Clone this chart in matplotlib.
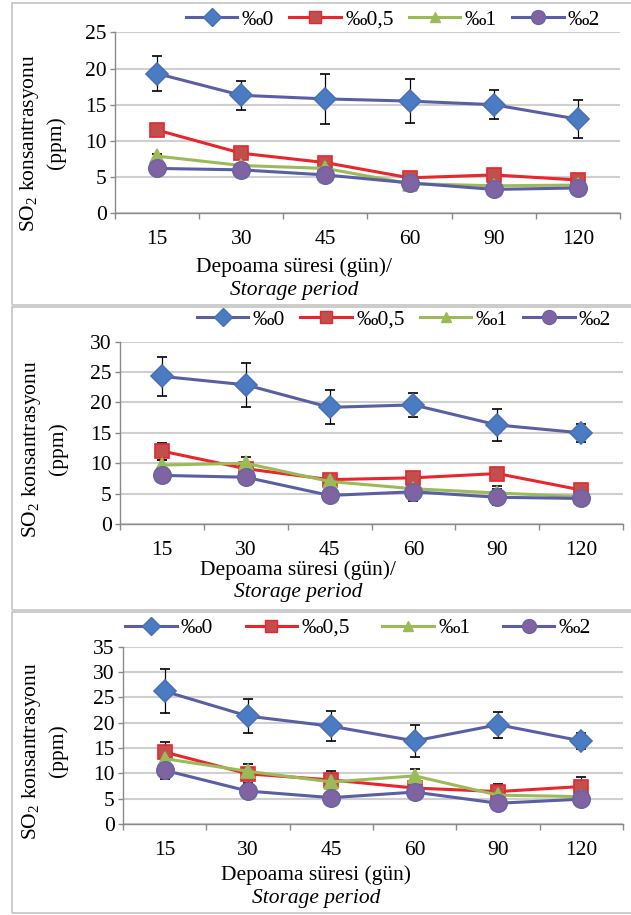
import matplotlib
matplotlib.use("Agg")
import matplotlib.pyplot as plt
from matplotlib.patches import Rectangle
from matplotlib.lines import Line2D

plt.rcParams['font.family'] = ['Liberation Serif', 'DejaVu Serif']
plt.rcParams['mathtext.fontset'] = 'custom'
plt.rcParams['mathtext.rm'] = 'Liberation Serif'
plt.rcParams['mathtext.it'] = 'Liberation Serif:italic'

categories = ["15", "30", "45", "60", "90", "120"]
series_names = ["‰0", "‰0,5", "‰1", "‰2"]

# Panel 1
p1_v0 = [19.3, 16.3, 15.8, 15.5, 15.0, 13.0]
p1_v05 = [11.5, 8.3, 7.0, 4.9, 5.3, 4.6]
p1_v1 = [7.9, 6.6, 6.2, 4.1, 3.8, 3.9]
p1_v2 = [6.2, 6.0, 5.3, 4.2, 3.3, 3.5]
p1_e0 = [2.4, 2.0, 3.5, 3.0, 2.0, 2.6]
p1_e05 = [0.3, 0.3, 0.3, 0.3, 0.3, 0.2]
p1_e1 = [0.3, 0.2, 0.2, 0.2, 0.2, 0.2]
p1_e2 = [0.2, 0.2, 0.2, 0.2, 0.2, 0.2]

# Panel 2
p2_v0 = [24.3, 22.9, 19.2, 19.6, 16.3, 15.0]
p2_v05 = [12.0, 9.1, 7.3, 7.6, 8.3, 5.6]
p2_v1 = [9.7, 10.0, 7.0, 5.8, 5.1, 4.5]
p2_v2 = [8.0, 7.7, 4.7, 5.3, 4.4, 4.2]
p2_e0 = [3.2, 3.6, 2.8, 2.0, 2.6, 1.5]
p2_e05 = [1.4, 0.4, 0.4, 0.4, 0.4, 0.4]
p2_e1 = [0.8, 1.1, 0.4, 0.4, 1.1, 0.3]
p2_e2 = [0.4, 0.4, 0.4, 1.5, 1.3, 0.4]

# Panel 3
p3_v0 = [26.2, 21.3, 19.3, 16.4, 19.6, 16.4]
p3_v05 = [14.2, 9.9, 8.7, 7.1, 6.4, 7.4]
p3_v1 = [12.9, 10.4, 8.3, 9.5, 5.7, 5.4]
p3_v2 = [10.6, 6.5, 5.2, 6.3, 4.1, 4.9]
p3_e0 = [4.3, 3.4, 3.0, 3.1, 2.6, 1.5]
p3_e05 = [1.9, 1.9, 1.8, 0.5, 1.5, 1.8]
p3_e1 = [0.5, 0.6, 0.5, 1.3, 0.4, 0.4]
p3_e2 = [1.8, 0.5, 0.5, 0.5, 0.5, 0.5]

y_label_1 = "SO$_2$ konsantrasyonu"
y_label_2 = "(ppm)"
x_label_1 = "Depoama süresi (gün)/"
x_label_3 = "Depoama süresi (gün)"
x_label_2 = "Storage period"

W, H = 631, 915
fig = plt.figure(figsize=(W / 100, H / 100), dpi=100)

def fx(px):
    return px / W

def fy(py):
    return 1 - py / H

# panel borders
for top, bot in [(3, 305), (307, 610), (612, 913)]:
    fig.patches.append(Rectangle((fx(12), fy(bot)), fx(640 - 12), (bot - top) / H,
                                 transform=fig.transFigure, fill=False,
                                 edgecolor="#c8c8c8", linewidth=1.3))

styles = [
    dict(color="#5a5fa3", marker="D", mfc="#4a7cc4", mec="#4a6fb5", ms=11),
    dict(color="#e8262b", marker="s", mfc="#c0504d", mec="#e8262b", ms=10),
    dict(color="#9bbb59", marker="^", mfc="#9bbb59", mec="#9bbb59", ms=9.5),
    dict(color="#5a5fa3", marker="o", mfc="#8064a2", mec="#6a64a5", ms=12.5),
]

panels = [
    dict(vals=[p1_v0, p1_v05, p1_v1, p1_v2], errs=[p1_e0, p1_e05, p1_e1, p1_e2],
         box=(115, 620, 32.3, 213.3), ymax=25,
         ylab=(30, 56, 143), xl=(294, 267, 290), xlab=x_label_1,
         leg=(393, 20), colsp=0.7),
    dict(vals=[p2_v0, p2_v05, p2_v1, p2_v2], errs=[p2_e0, p2_e05, p2_e1, p2_e2],
         box=(120, 623, 341.7, 524), ymax=30,
         ylab=(32, 58, 449), xl=(298, 570, 593), xlab=x_label_1,
         leg=(404, 320), colsp=0.7),
    dict(vals=[p3_v0, p3_v05, p3_v1, p3_v2], errs=[p3_e0, p3_e05, p3_e1, p3_e2],
         box=(123, 623, 646.7, 824), ymax=35,
         ylab=(32, 58, 751), xl=(316, 875, 898), xlab=x_label_3,
         leg=(358, 628), colsp=1.5),
]

FS = 15.5
x = list(range(len(categories)))

for p in panels:
    l, r, t, b = p["box"]
    ax = fig.add_axes([fx(l), fy(b), (r - l) / W, (b - t) / H])
    for vals, errs, st in zip(p["vals"], p["errs"], styles):
        ax.errorbar(x, vals, yerr=errs, color=st["color"], lw=2.2,
                    marker=st["marker"], mfc=st["mfc"], mec=st["mec"],
                    ms=st["ms"], mew=1.2, ecolor="black", elinewidth=0.9,
                    capsize=3.5, capthick=0.9, zorder=3)
    ax.set_xlim(-0.5, 5.5)
    ax.set_ylim(0, p["ymax"])
    ax.set_yticks(range(0, p["ymax"] + 1, 5))
    ax.set_xticks(x)
    ax.set_xticklabels(categories)
    ax.set_xticks([i - 0.5 for i in range(7)], minor=True)
    ax.tick_params(axis="x", which="major", length=0, pad=12, labelsize=FS)
    ax.tick_params(axis="x", which="minor", length=4.5, width=1.0, color="#8a8a8a")
    ax.tick_params(axis="y", which="major", length=3.5, width=1.0, color="#8a8a8a",
                   pad=2.5, labelsize=FS)
    ax.grid(axis="y", color="#cfcfcf", linewidth=1.5, zorder=0)
    ax.set_axisbelow(True)
    for s in ["top", "right"]:
        ax.spines[s].set_visible(False)
    for s in ["left", "bottom"]:
        ax.spines[s].set_color("#8a8a8a")
        ax.spines[s].set_linewidth(1.0)
    ax.patch.set_alpha(0)

    x1, x2, yc = p["ylab"]
    fig.text(fx(x1), fy(yc), y_label_1, rotation=90, ha="center", va="center", fontsize=FS)
    fig.text(fx(x2), fy(yc), y_label_2, rotation=90, ha="center", va="center", fontsize=FS)

    xc, y1, y2 = p["xl"]
    fig.text(fx(xc), fy(y1), p["xlab"], ha="center", va="center", fontsize=FS)
    fig.text(fx(xc), fy(y2), x_label_2, ha="center", va="center", fontsize=FS, style="italic")

    handles = [Line2D([], [], color=st["color"], lw=2.2, marker=st["marker"],
                      mfc=st["mfc"], mec=st["mec"], ms=st["ms"] * 0.8, mew=1.0)
               for st in styles]
    lx, ly = p["leg"]
    fig.legend(handles, series_names, loc="center", bbox_to_anchor=(fx(lx), fy(ly)),
               ncol=4, frameon=False, fontsize=FS, handlelength=2.4,
               handletextpad=0.2, columnspacing=p["colsp"], borderpad=0,
               borderaxespad=0)

fig.savefig("out.png", dpi=100)
